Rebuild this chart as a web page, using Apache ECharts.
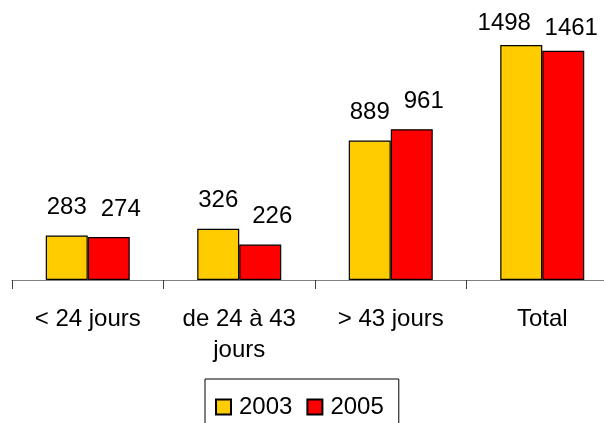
<!DOCTYPE html>
<html>
<head>
<meta charset="utf-8">
<script src="https://cdn.jsdelivr.net/npm/echarts@6/dist/echarts.min.js"></script>
<style>
    html, body { margin: 0; padding: 0; background: #ffffff; overflow: hidden; }
    /* the plot runs past the right edge in the original, so the canvas is wider than the window */
    #chart { width: 620px; height: 423px; }
</style>
</head>
<body>
<div id="chart"></div>
<script>
// categories & values
const categories = ["< 24 jours", "de 24 à 43\njours", "> 43 jours", "Total"];
const years = ["2003", "2005"];
const values2003 = [283, 326, 889, 1498];
const values2005 = [274, 226, 961, 1461];

const chart = echarts.init(document.getElementById("chart"), null, { renderer: "canvas" });

const font = "'Liberation Sans', Arial, sans-serif";

// the Total labels sit a bit lower / shifted in the original
function buildData(values, totalOffset) {
    return values.map((v, i) => {
        if (i !== 3) return v;
        return {
            value: v,
            label: { distance: 10, offset: totalOffset },
        };
    });
}

function barSeries(name, color, values, offset, totalOffset) {
    return {
        name: name,
        type: "bar",
        barWidth: 42,
        barGap: "0%",
        itemStyle: {
            color: color,
            borderColor: "#000000",
            borderWidth: 1.2,
        },
        label: {
            show: true,
            position: "top",
            distance: 16,
            offset: offset,
            color: "#000000",
            fontFamily: font,
            fontSize: 24,
        },
        data: buildData(values, totalOffset),
    };
}

var option = {
    backgroundColor: "#ffffff",
    animation: false,
    grid: {
        left: 12,
        right: 2,
        top: 29,
        bottom: 143,
        containLabel: false,
    },
    legend: {
        data: years,
        left: 205,
        top: 379,
        orient: "horizontal",
        itemWidth: 15,
        itemHeight: 15,
        itemGap: 14,
        padding: [16, 15, 20, 10],
        borderColor: "#000000",
        borderWidth: 1,
        icon: "rect",
        textStyle: {
            color: "#000000",
            fontFamily: font,
            fontSize: 24,
            padding: [0, 0, 4, 3],
        },
    },
    xAxis: {
        type: "category",
        data: categories,
        boundaryGap: true,
        axisLine: { lineStyle: { color: "#808080", width: 1 } },
        axisTick: { show: true, length: 9, lineStyle: { color: "#404040" } },
        axisLabel: {
            color: "#000000",
            fontFamily: font,
            fontSize: 24,
            lineHeight: 31,
            margin: 24,
            interval: 0,
        },
    },
    yAxis: {
        type: "value",
        show: false,
        min: 0,
        max: 1600,
        splitLine: { show: false },
    },
    series: [
        barSeries(years[0], "#FFCC00", values2003, [0, 0], [-17, 0]),
        barSeries(years[1], "#FF0000", values2005, [12, 0], [8, 0]),
    ],
};

chart.setOption(option);
</script>
</body>
</html>
